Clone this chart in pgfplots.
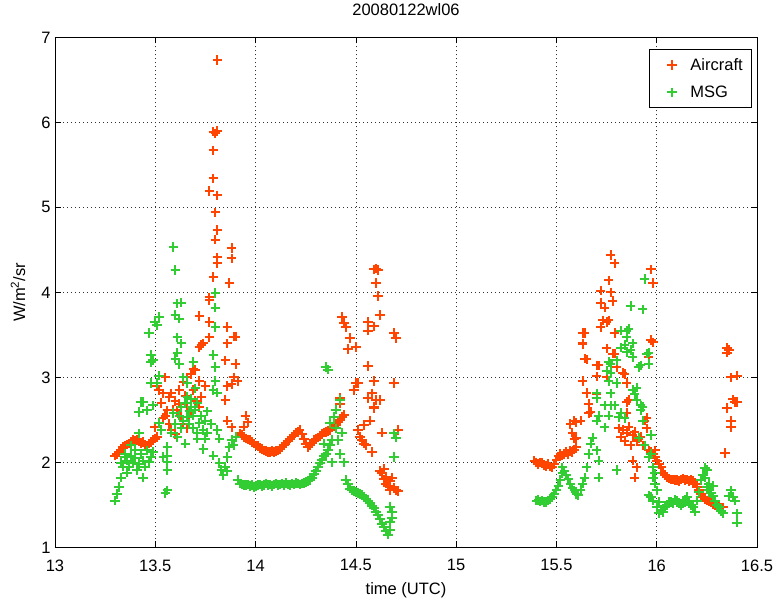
\documentclass[border=0pt]{standalone}
\usepackage{pgfplots}
\pgfplotsset{compat=1.18}
\usepackage{fontspec}
\setmainfont{Liberation Sans}
\definecolor{acol}{RGB}{255,69,0}
\definecolor{mcol}{RGB}{50,205,50}
\newcommand\ff{\fontsize{16.5bp}{19bp}\selectfont}
\begin{document}
\begin{tikzpicture}
\begin{axis}[
  scale only axis, width=702bp, height=510bp,
  xmin=13, xmax=16.5, ymin=1, ymax=7,
  xtick={13,13.5,14,14.5,15,15.5,16,16.5},
  xticklabels={13,13.5,14,14.5,15,15.5,16,16.5},
  ytick={1,2,3,4,5,6,7},
  /pgf/number format/assume math mode=true,
  tick label style={font=\ff},
  xticklabel style={anchor=center, yshift=-18bp},
  yticklabel style={xshift=-1bp},
  tick align=inside, major tick length=6bp,
  tick style={black, line width=0.7bp},
  axis line style={black, line width=0.8bp},
  grid=major,
  major grid style={black!80, line width=0.6bp, dash pattern=on 1bp off 3bp},
  title={20080122wl06},
  title style={font=\ff, at={(axis description cs:0.5,1.0431)}, anchor=center},
  xlabel={time (UTC)},
  xlabel style={font=\ff, at={(axis description cs:0.5,-0.0843)}, anchor=center},
  ylabel={W/m\textsuperscript{2}/sr},
  ylabel style={font=\ff, at={(axis description cs:-0.0527,0.5)}, anchor=center},
  legend style={font=\ff, at={(axis description cs:0.993,0.977)}, anchor=north east,
    draw=black, line width=0.7bp, row sep=10bp, column sep=8bp, inner xsep=7bp, inner ysep=7bp},
  legend cell align=left,
  legend image code/.code={\path[draw=none, fill=none] (-7bp,0) -- (0.6cm,0);
    \draw[#1, /tikz/only marks] plot coordinates {(0.3cm,0cm)};},
  every axis plot/.append style={only marks, mark=+, mark size=4.8bp, line width=2bp, mark options={solid, line width=2bp}},
]
\addplot[color=acol] table {
13.30 2.08
13.31 2.10
13.32 2.12
13.33 2.15
13.34 2.18
13.35 2.20
13.36 2.21
13.37 2.22
13.38 2.24
13.39 2.26
13.40 2.25
13.41 2.27
13.42 2.25
13.43 2.22
13.44 2.24
13.45 2.21
13.46 2.20
13.47 2.22
13.48 2.24
13.49 2.26
13.50 2.28
13.51 2.30
13.51 2.93
13.51 2.90
13.52 2.85
13.54 2.81
13.58 2.81
13.57 2.77
13.62 2.69
13.61 2.61
13.63 2.53
13.56 2.61
13.54 2.52
13.50 2.41
13.66 3.00
13.68 3.04
13.72 2.96
13.75 2.90
13.73 2.77
13.72 2.65
13.67 2.53
13.66 2.40
13.58 2.38
13.86 2.49
13.88 2.41
13.77 3.47
13.74 3.40
13.72 3.36
13.90 3.48
13.86 3.40
13.85 3.20
13.90 3.16
13.89 3.00
13.91 2.96
13.86 2.90
13.85 2.73
13.81 6.73
13.79 5.89
13.80 5.87
13.81 5.90
13.79 5.67
13.79 5.34
13.81 5.14
13.77 5.19
13.80 4.94
13.81 4.73
13.80 4.62
13.88 4.52
13.81 4.41
13.88 4.40
13.81 4.34
13.79 4.18
13.87 4.11
13.77 3.94
13.77 3.91
13.72 3.72
13.77 3.65
13.86 3.59
13.89 3.48
13.73 3.38
13.70 3.09
13.88 2.92
13.55 2.55
13.57 2.45
13.59 2.62
13.60 2.72
13.62 2.85
13.64 2.95
13.65 2.78
13.66 2.65
13.68 2.60
13.69 2.85
13.70 2.72
13.64 2.45
13.60 2.33
13.53 2.70
13.55 3.00
13.69 3.10
13.95 2.55
13.96 2.47
13.94 2.42
13.92 2.34
13.93 2.32
13.94 2.30
13.95 2.28
13.96 2.27
13.97 2.26
13.98 2.24
13.99 2.22
14.00 2.20
14.01 2.19
14.02 2.17
14.03 2.16
14.04 2.14
14.05 2.13
14.06 2.12
14.07 2.12
14.08 2.13
14.09 2.12
14.10 2.13
14.11 2.14
14.12 2.16
14.13 2.18
14.14 2.20
14.15 2.22
14.16 2.25
14.17 2.28
14.18 2.30
14.19 2.32
14.20 2.35
14.21 2.36
14.22 2.38
14.23 2.33
14.24 2.27
14.25 2.22
14.26 2.18
14.27 2.20
14.28 2.23
14.29 2.26
14.30 2.28
14.31 2.29
14.32 2.31
14.33 2.33
14.34 2.35
14.35 2.36
14.36 2.37
14.37 2.38
14.38 2.41
14.39 2.43
14.40 2.44
14.41 2.47
14.42 2.50
14.43 2.53
14.44 2.56
14.42 2.76
14.49 2.85
14.50 2.93
14.51 2.38
14.52 2.30
14.53 2.26
14.54 2.22
14.55 2.20
14.58 2.12
14.56 2.76
14.59 2.65
14.60 2.73
14.57 2.49
14.63 2.35
14.69 2.93
14.63 1.88
14.68 1.82
14.65 1.75
14.67 1.67
14.70 1.67
14.64 1.80
14.66 1.72
14.64 1.92
14.62 1.90
14.69 1.70
14.71 1.66
14.65 1.83
14.67 1.78
14.60 4.28
14.61 4.26
14.59 4.27
14.60 4.11
14.61 3.96
14.62 3.73
14.43 3.71
14.44 3.64
14.45 3.59
14.56 3.65
14.59 3.60
14.56 3.55
14.69 3.52
14.70 3.46
14.47 3.46
14.50 3.36
14.46 3.33
14.56 3.13
14.51 2.93
14.59 2.96
14.58 2.81
14.62 2.73
14.59 2.64
14.42 2.69
14.54 2.44
14.71 2.38
15.39 2.02
15.40 2.00
15.41 1.98
15.42 2.00
15.43 1.99
15.44 1.97
15.45 1.96
15.46 1.98
15.47 1.95
15.48 1.94
15.49 1.98
15.50 2.03
15.51 2.07
15.52 2.10
15.53 2.08
15.54 2.10
15.55 2.12
15.56 2.10
15.57 2.13
15.58 2.12
15.59 2.15
15.60 2.18
15.60 2.29
15.59 2.49
15.62 2.49
15.66 2.58
15.66 2.69
15.65 2.82
15.63 2.96
15.63 3.40
15.63 3.52
15.65 3.21
15.68 2.29
15.72 3.59
15.75 3.65
15.71 3.14
15.75 3.34
15.78 3.28
15.75 3.00
15.80 3.12
15.83 3.05
15.85 2.93
15.86 2.73
15.85 2.58
15.83 2.38
15.85 2.35
15.88 2.32
15.91 2.28
15.94 2.49
15.95 2.40
15.99 2.14
15.88 2.02
15.90 1.94
15.89 1.82
15.97 3.44
15.77 4.44
15.79 4.34
15.97 4.27
15.98 4.11
15.76 4.14
15.72 4.02
15.77 4.00
15.72 3.88
15.78 3.90
15.74 3.82
15.73 3.67
15.76 3.67
15.64 3.52
15.79 3.52
15.63 3.39
15.64 3.22
15.79 3.28
15.98 3.41
15.96 3.24
15.70 3.14
15.84 3.04
15.70 3.01
15.65 2.81
15.67 2.59
15.60 2.47
15.85 2.71
15.95 2.52
15.81 2.40
15.82 2.30
15.84 2.25
15.86 2.42
15.87 2.20
15.89 2.36
15.90 2.25
15.92 2.30
15.93 2.20
15.58 2.35
15.57 2.45
15.59 2.28
15.70 2.80
15.96 2.14
15.97 2.12
15.98 2.10
15.99 2.06
16.00 2.02
16.01 1.98
16.02 1.94
16.03 1.88
16.04 1.85
16.05 1.83
16.06 1.81
16.07 1.80
16.08 1.80
16.09 1.79
16.10 1.79
16.11 1.78
16.12 1.80
16.13 1.81
16.14 1.79
16.15 1.80
16.16 1.78
16.17 1.80
16.18 1.78
16.19 1.75
16.20 1.71
16.21 1.67
16.22 1.63
16.23 1.59
16.24 1.57
16.25 1.55
16.26 1.54
16.27 1.53
16.28 1.51
16.29 1.50
16.30 1.49
16.31 1.48
16.32 1.47
16.33 1.47
16.35 3.35
16.35 3.29
16.36 3.32
16.37 3.00
16.40 3.02
16.39 2.71
16.40 2.71
16.38 2.74
16.35 2.64
16.37 2.49
16.37 2.41
16.34 2.11
};
\addlegendentry{Aircraft}
\addplot[color=mcol] table {
13.30 1.55
13.31 1.63
13.32 1.71
13.33 1.82
13.33 1.99
13.35 2.06
13.39 1.99
13.41 1.91
13.44 1.82
13.46 2.14
13.42 2.34
13.48 2.06
13.49 2.12
13.35 2.10
13.38 2.20
13.34 1.95
13.36 2.02
13.37 1.95
13.40 2.05
13.42 1.98
13.43 2.10
13.45 1.95
13.47 2.00
13.38 2.08
13.36 1.88
13.40 2.15
13.44 2.02
13.43 2.71
13.42 2.59
13.49 2.67
13.48 2.93
13.52 3.02
13.47 3.52
13.48 3.26
13.49 3.20
13.52 3.71
13.50 3.65
13.51 3.61
13.59 4.53
13.60 4.26
13.61 3.87
13.63 3.88
13.60 3.73
13.62 3.69
13.61 3.47
13.63 3.40
13.61 3.29
13.60 3.22
13.62 3.16
13.48 3.18
13.69 3.18
13.80 3.99
13.80 3.82
13.80 3.59
13.79 3.26
13.80 3.12
13.51 2.93
13.64 3.00
13.66 2.93
13.70 2.87
13.79 2.85
13.81 2.82
13.80 2.96
13.66 2.77
13.68 2.65
13.66 2.53
13.64 2.49
13.59 2.58
13.52 2.46
13.53 2.38
13.72 2.46
13.74 2.38
13.71 2.34
13.65 2.22
13.71 2.28
13.75 2.28
13.74 2.16
13.81 2.38
13.82 2.28
13.44 2.71
13.46 2.61
13.56 2.18
13.56 2.08
13.54 2.06
13.56 2.00
13.56 1.91
13.55 1.64
13.56 1.67
13.75 2.49
13.79 2.08
13.82 1.99
13.83 1.91
13.84 1.85
13.86 2.06
13.87 2.18
13.88 2.26
13.89 2.20
13.90 2.30
13.85 1.95
13.86 1.90
13.62 2.55
13.63 2.65
13.65 2.70
13.67 2.60
13.68 2.75
13.69 2.55
13.70 2.62
13.71 2.70
13.67 2.45
13.63 2.40
13.60 2.45
13.58 2.35
13.61 2.30
13.69 2.40
13.73 2.55
13.76 2.60
13.78 2.45
13.76 2.35
13.91 1.79
13.92 1.75
13.93 1.74
13.94 1.73
13.95 1.73
13.96 1.74
13.97 1.72
13.98 1.73
13.99 1.71
14.00 1.72
14.01 1.73
14.02 1.74
14.03 1.72
14.04 1.73
14.05 1.75
14.06 1.73
14.07 1.74
14.08 1.72
14.09 1.74
14.10 1.75
14.11 1.73
14.12 1.74
14.13 1.75
14.14 1.73
14.15 1.76
14.16 1.74
14.17 1.73
14.18 1.75
14.19 1.74
14.20 1.76
14.21 1.75
14.22 1.74
14.23 1.75
14.24 1.76
14.25 1.77
14.26 1.78
14.27 1.79
14.28 1.82
14.29 1.86
14.30 1.90
14.31 1.95
14.32 1.99
14.33 2.03
14.34 2.07
14.35 2.10
14.36 2.14
14.37 2.20
14.38 2.26
14.37 2.46
14.39 2.53
14.42 2.73
14.41 2.26
14.42 2.10
14.44 2.00
14.40 2.62
14.35 3.12
14.36 3.09
14.40 2.40
14.43 2.35
14.38 2.00
14.34 2.22
14.45 1.79
14.46 1.74
14.47 1.69
14.48 1.67
14.49 1.66
14.50 1.65
14.51 1.64
14.52 1.63
14.53 1.62
14.54 1.60
14.55 1.57
14.56 1.55
14.57 1.52
14.58 1.49
14.59 1.46
14.60 1.42
14.61 1.38
14.62 1.33
14.63 1.28
14.64 1.24
14.65 1.19
14.66 1.15
14.67 1.20
14.67 1.30
14.68 1.41
14.67 1.48
14.70 2.29
14.69 2.34
14.69 2.06
14.68 1.35
15.40 1.55
15.41 1.56
15.42 1.54
15.43 1.55
15.44 1.53
15.45 1.53
15.46 1.55
15.47 1.57
15.48 1.59
15.49 1.63
15.50 1.67
15.51 1.72
15.52 1.79
15.53 1.87
15.53 1.94
15.54 1.90
15.55 1.85
15.56 1.80
15.57 1.75
15.58 1.70
15.59 1.67
15.60 1.63
15.61 1.61
15.62 1.68
15.63 1.75
15.64 1.82
15.65 1.94
15.66 2.10
15.67 2.22
15.68 2.29
15.70 2.14
15.71 2.02
15.71 1.82
15.70 2.49
15.70 2.76
15.74 2.41
15.77 2.67
15.77 2.81
15.76 2.96
15.77 3.16
15.80 3.20
15.82 3.35
15.85 3.55
15.84 3.38
15.87 3.32
15.88 3.24
15.91 3.12
15.92 3.14
15.95 3.28
15.96 3.16
15.88 2.85
15.90 2.73
15.92 2.61
15.93 2.49
15.91 2.29
15.94 2.20
15.97 2.10
15.99 1.87
16.00 1.67
16.00 1.47
16.01 1.40
15.82 2.58
15.84 2.52
15.76 2.55
15.80 1.91
15.94 4.16
15.87 3.84
15.93 3.80
15.82 3.55
15.86 3.57
15.85 3.47
15.88 3.40
15.96 3.29
15.85 3.30
15.76 3.18
15.75 3.08
15.77 3.05
15.80 2.93
15.90 2.88
15.89 2.80
15.70 2.81
15.79 2.67
15.74 2.67
15.92 2.67
15.71 2.55
15.81 2.53
15.93 2.65
15.97 2.32
15.96 2.06
15.98 1.94
15.98 1.82
15.99 1.75
15.97 1.59
15.96 1.61
15.98 1.55
16.01 1.53
16.02 1.44
16.03 1.41
16.04 1.47
16.05 1.50
16.06 1.53
16.07 1.53
16.08 1.52
16.09 1.56
16.10 1.55
16.11 1.52
16.12 1.49
16.13 1.52
16.14 1.56
16.15 1.59
16.16 1.53
16.17 1.50
16.18 1.47
16.19 1.42
16.20 1.55
16.21 1.65
16.22 1.79
16.23 1.85
16.24 1.93
16.25 1.91
16.24 1.82
16.25 1.71
16.26 1.67
16.27 1.64
16.28 1.60
16.29 1.55
16.30 1.50
16.31 1.47
16.32 1.43
16.33 1.40
16.36 1.60
16.37 1.67
16.38 1.59
16.39 1.55
16.40 1.40
16.40 1.29
16.26 1.75
16.28 1.72
};
\addlegendentry{MSG}
\end{axis}
\path ([shift={(-55bp,-54bp)}]current axis.south west) rectangle ([shift={(21bp,37bp)}]current axis.north east);
\end{tikzpicture}
\end{document}
